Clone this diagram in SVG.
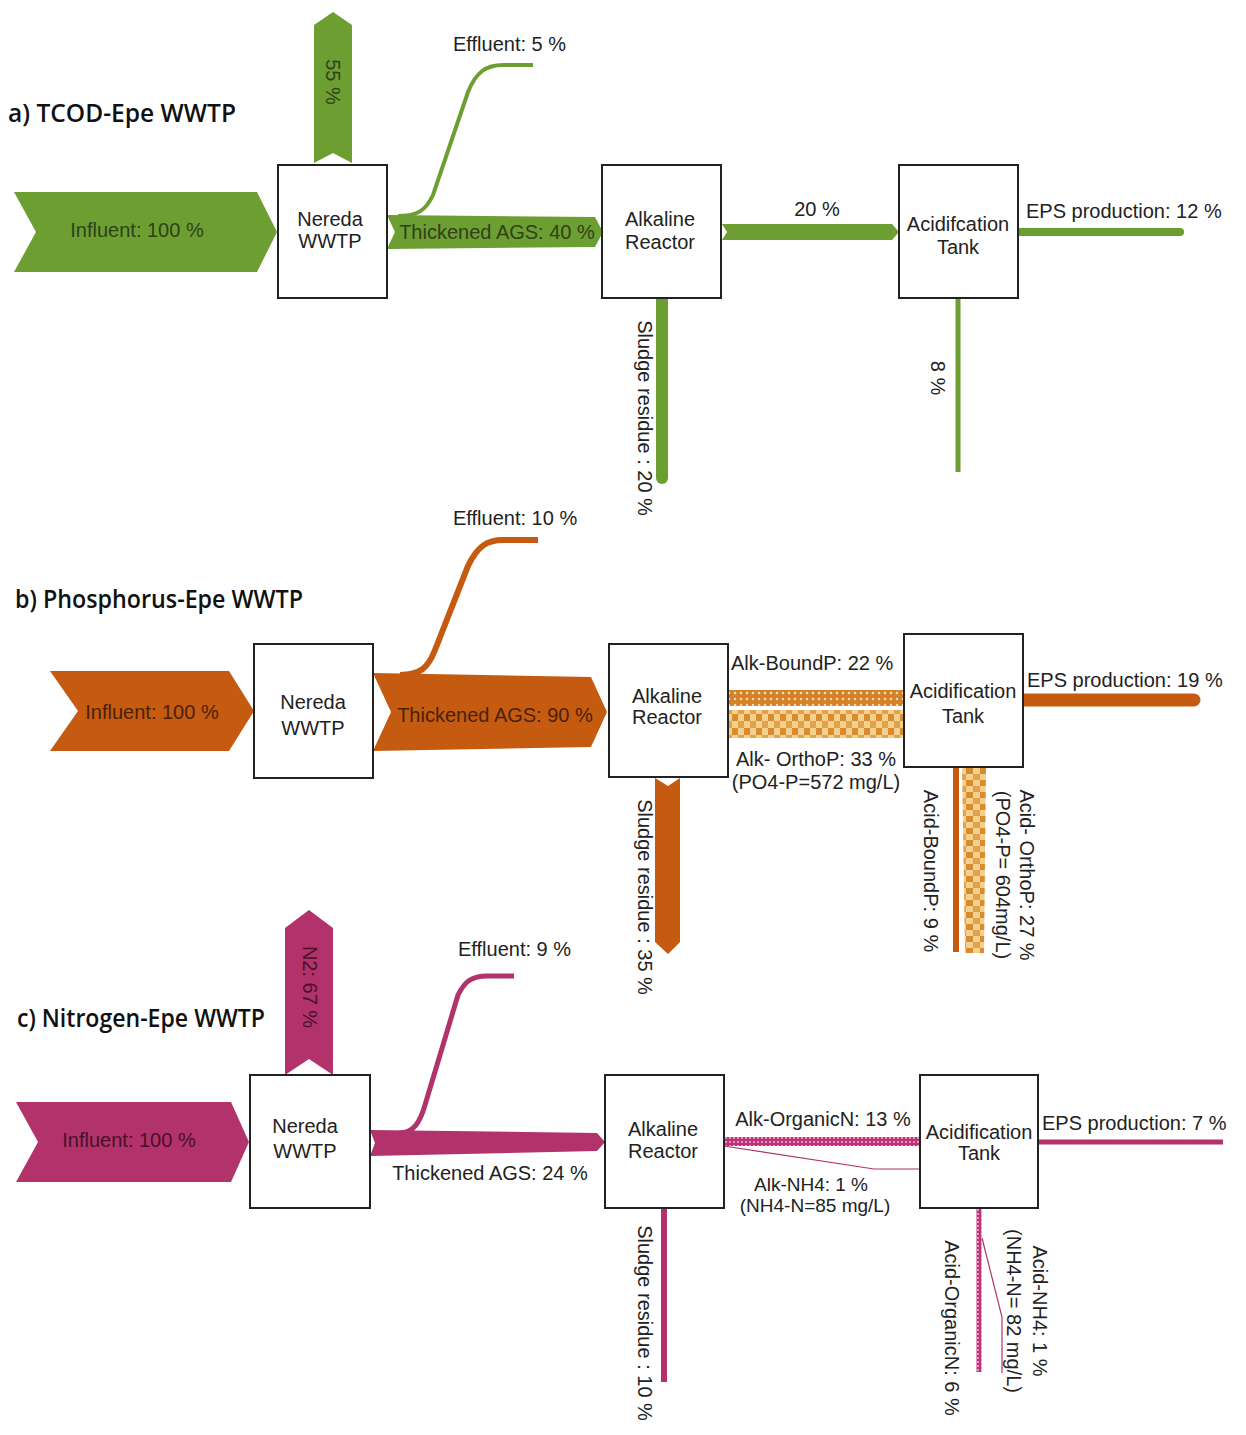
<svg xmlns="http://www.w3.org/2000/svg" width="1246" height="1435" viewBox="0 0 1246 1435">
<style>
text{font-family:"Liberation Sans",Arial,sans-serif;font-size:20px;fill:#222;dominant-baseline:central}
.t{font-family:"Open Sans","Liberation Sans",sans-serif;font-weight:600;font-size:26px;fill:#111}
.m{text-anchor:middle}
.s{font-size:19px}
.box{fill:#fff;stroke:#222;stroke-width:2}
.g{fill:#6c9e32}.o{fill:#c55a11}.p{fill:#b2336c}
.gl{stroke:#6c9e32;fill:none}.ol{stroke:#c55a11;fill:none}.pl{stroke:#b2336c;fill:none}
.ig{fill:#2f4218}.io{fill:#4a2206}.ip{fill:#4a1028}
</style>
<defs>
<pattern id="dotO" width="6" height="6" patternUnits="userSpaceOnUse">
<rect width="6" height="6" fill="#d4822a"/><circle cx="3" cy="3" r="1.3" fill="#f6d9a6"/>
</pattern>
<pattern id="chkO" width="12" height="14" patternUnits="userSpaceOnUse">
<rect width="12" height="14" fill="#f3d08e"/><rect x="0" y="0" width="6" height="7" fill="#d98c2e"/><rect x="6" y="7" width="6" height="7" fill="#e2a24a"/>
</pattern>
<pattern id="chkOv" width="14" height="12" patternUnits="userSpaceOnUse">
<rect width="14" height="12" fill="#f3d08e"/><rect x="0" y="0" width="7" height="6" fill="#d98c2e"/><rect x="7" y="6" width="7" height="6" fill="#e2a24a"/>
</pattern>
<pattern id="dotP" width="4" height="4" patternUnits="userSpaceOnUse">
<rect width="4" height="4" fill="#c0307a"/><circle cx="2" cy="2" r="0.9" fill="#f4c6dc"/>
</pattern>
</defs>

<!-- titles -->
<text class="t" x="8" y="112" textLength="228" lengthAdjust="spacingAndGlyphs">a)  TCOD-Epe WWTP</text>
<text class="t" x="15" y="598" textLength="288" lengthAdjust="spacingAndGlyphs">b) Phosphorus-Epe WWTP</text>
<text class="t" x="17" y="1017" textLength="248" lengthAdjust="spacingAndGlyphs">c) Nitrogen-Epe WWTP</text>

<g id="connectors">
<!-- a -->
<g id="a-influent"><polygon class="g" points="14,192 257,192 277,232 257,272 14,272 36,232"/><text class="m ig" x="137" y="230">Influent: 100 %</text></g>
<g id="a-55"><polygon class="g" points="314,25 333,12 352,25 352,163 333,153 314,163"/><text class="m ig" transform="translate(333,82) rotate(90)">55 %</text></g>
<g id="a-effluent"><path class="gl" stroke-width="4" d="M 398 216 C 418 216, 426 210, 433 195 L 468 92 C 476 72, 486 65, 503 65 L 533 65"/><text x="453" y="44">Effluent: 5 %</text></g>
<g id="a-ags"><polygon class="g" points="387,215 595,217 603,232 595,247 387,249 395,232"/><text class="m ig" x="497" y="232">Thickened AGS: 40 %</text></g>
<g id="a-20"><polygon class="g" points="722,224 892,224 899,232 892,240 722,240 727,232"/><text class="m" x="817" y="209">20 %</text></g>
<g id="a-eps"><line class="gl" x1="1018" y1="232" x2="1180" y2="232" stroke-width="8" stroke-linecap="round"/><text x="1026" y="211">EPS production: 12 %</text></g>
<g id="a-sludge"><line class="gl" x1="662" y1="298" x2="662" y2="478" stroke-width="12" stroke-linecap="round"/><text class="m" transform="translate(645,418) rotate(90)">Sludge residue : 20 %</text></g>
<g id="a-8"><line class="gl" x1="958" y1="298" x2="958" y2="472" stroke-width="5"/><text class="m" transform="translate(938,378) rotate(90)">8 %</text></g>

<!-- b -->
<g id="b-influent"><polygon class="o" points="50,671 229,671 254,711 229,751 50,751 78,711"/><text class="m io" x="152" y="712">Influent: 100 %</text></g>
<g id="b-effluent"><path class="ol" stroke-width="6" d="M 400 675 C 420 675, 428 668, 435 650 L 468 566 C 478 545, 488 540, 503 540 L 538 540"/><text x="453" y="518">Effluent: 10 %</text></g>
<g id="b-ags"><polygon class="o" points="373,673 591,677 607,712 591,747 373,751 391,712"/><text class="m io" x="495" y="715">Thickened AGS: 90 %</text></g>
<g id="b-boundp"><rect x="728" y="690" width="176" height="16" fill="url(#dotO)"/><text x="731" y="663">Alk-BoundP: 22 %</text></g>
<g id="b-orthop"><rect x="728" y="710" width="176" height="28" fill="url(#chkO)"/><text class="m" x="816" y="759">Alk- OrthoP: 33 %</text><text class="m" x="816" y="782">(PO4-P=572 mg/L)</text></g>
<g id="b-eps"><line class="ol" x1="1023" y1="700" x2="1194" y2="700" stroke-width="13" stroke-linecap="round"/><text x="1027" y="680">EPS production: 19 %</text></g>
<g id="b-sludge"><polygon class="o" points="655,778 668,786 680,778 680,942 668,954 655,942"/><text class="m" transform="translate(645,897) rotate(90)">Sludge residue : 35 %</text></g>
<g id="b-acidbound"><line class="ol" x1="956" y1="767" x2="956" y2="952" stroke-width="6"/><text class="m" transform="translate(931,871) rotate(90)">Acid-BoundP: 9 %</text></g>
<g id="b-acidortho"><polygon points="962,767 986,767 984,953 965,953" fill="url(#chkOv)"/><text class="m" transform="translate(1027,875) rotate(90)">Acid- OrthoP: 27 %</text><text class="m" transform="translate(1003,875) rotate(90)">(PO4-P= 604mg/L)</text></g>

<!-- c -->
<g id="c-influent"><polygon class="p" points="16,1102 231,1102 249,1142 231,1182 16,1182 38,1142"/><text class="m ip" x="129" y="1140">Influent: 100 %</text></g>
<g id="c-n2"><polygon class="p" points="285,928 309,910 333,928 333,1075 309,1059 285,1075"/><text class="m ip" transform="translate(310,987) rotate(90)">N2: 67 %</text></g>
<g id="c-effluent"><path class="pl" stroke-width="5" d="M 399 1133 C 414 1133, 420 1122, 425 1105 L 458 995 C 465 981, 472 976, 487 976 L 514 976"/><text x="458" y="949">Effluent: 9 %</text></g>
<g id="c-ags"><polygon class="p" points="370,1130 597,1133 605,1142 597,1151 370,1156 375,1143"/><text class="m" x="490" y="1173">Thickened AGS: 24 %</text></g>
<g id="c-orgn"><rect x="724" y="1137" width="196" height="9" fill="url(#dotP)"/><text class="m" x="823" y="1119">Alk-OrganicN: 13 %</text></g>
<g id="c-nh4"><polyline class="pl" stroke-width="1.2" points="724,1146 874,1169 920,1169"/><text class="m s" x="811" y="1184">Alk-NH4: 1 %</text><text class="m s" x="815" y="1205">(NH4-N=85 mg/L)</text></g>
<g id="c-eps"><line class="pl" x1="1038" y1="1142" x2="1223" y2="1142" stroke-width="5"/><text x="1042" y="1123">EPS production: 7 %</text></g>
<g id="c-sludge"><line class="pl" x1="664" y1="1208" x2="664" y2="1382" stroke-width="6"/><text class="m" transform="translate(645,1323) rotate(90)">Sludge residue : 10 %</text></g>
<g id="c-acidorgn"><rect x="976.5" y="1208" width="5" height="164" fill="url(#dotP)"/><text class="m" transform="translate(952,1328) rotate(90)">Acid-OrganicN: 6 %</text></g>
<g id="c-acidnh4"><polyline class="pl" stroke-width="1.2" points="982,1238 1002,1317 1002,1373"/><text class="m" transform="translate(1040,1311) rotate(90)">Acid-NH4: 1 %</text><text class="m" transform="translate(1014,1311) rotate(90)">(NH4-N= 82 mg/L)</text></g>
</g>

<!-- nodes -->
<g id="a-nereda"><rect class="box" x="278" y="165" width="109" height="133"/><text class="m" x="330" y="219">Nereda</text><text class="m" x="330" y="241">WWTP</text></g>
<g id="a-alkaline"><rect class="box" x="602" y="165" width="119" height="133"/><text class="m" x="660" y="219">Alkaline</text><text class="m" x="660" y="242">Reactor</text></g>
<g id="a-acid"><rect class="box" x="899" y="165" width="119" height="133"/><text class="m" x="958" y="224">Acidifcation</text><text class="m" x="958" y="247">Tank</text></g>

<g id="b-nereda"><rect class="box" x="254" y="644" width="119" height="134"/><text class="m" x="313" y="702">Nereda</text><text class="m" x="313" y="728">WWTP</text></g>
<g id="b-alkaline"><rect class="box" x="609" y="644" width="119" height="133"/><text class="m" x="667" y="696">Alkaline</text><text class="m" x="667" y="717">Reactor</text></g>
<g id="b-acid"><rect class="box" x="904" y="634" width="119" height="133"/><text class="m" x="963" y="691">Acidification</text><text class="m" x="963" y="716">Tank</text></g>

<g id="c-nereda"><rect class="box" x="250" y="1075" width="120" height="133"/><text class="m" x="305" y="1126">Nereda</text><text class="m" x="305" y="1151">WWTP</text></g>
<g id="c-alkaline"><rect class="box" x="605" y="1075" width="119" height="133"/><text class="m" x="663" y="1129">Alkaline</text><text class="m" x="663" y="1151">Reactor</text></g>
<g id="c-acid"><rect class="box" x="920" y="1075" width="118" height="133"/><text class="m" x="979" y="1132">Acidification</text><text class="m" x="979" y="1153">Tank</text></g>
</svg>
